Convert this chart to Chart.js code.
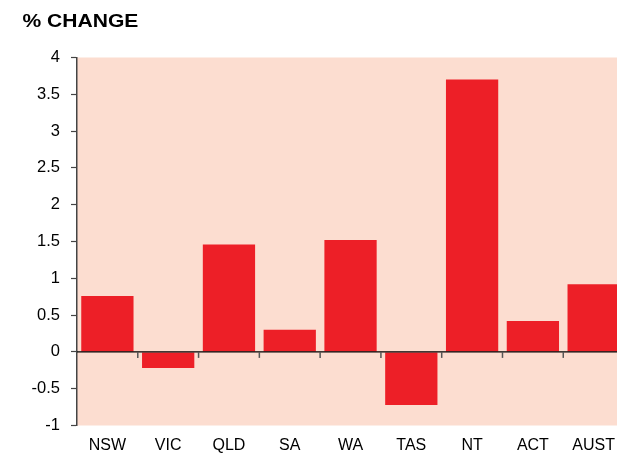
<!DOCTYPE html>
<html>
<head>
<meta charset="utf-8">
<script src="https://cdn.jsdelivr.net/npm/chart.js@4/dist/chart.umd.min.js"></script>
<style>
html,body{margin:0;padding:0;background:#fff;overflow:hidden;}
#wrap{width:617px;height:453px;overflow:hidden;position:relative;}
canvas{display:block;}
</style>
</head>
<body>
<div id="wrap"><canvas id="c" width="625" height="453"></canvas></div>
<script>
const categories = ['NSW','VIC','QLD','SA','WA','TAS','NT','ACT','AUST'];
const changeValues = [0.76, -0.22, 1.46, 0.3, 1.52, -0.72, 3.7, 0.42, 0.92];
const yTickMin = -1;
const yTickMax = 4;
const yTickStep = 0.5;
const chartTitle = '% CHANGE';

const FONT = '"Liberation Sans", Arial, Helvetica, sans-serif';

const plotBg = {
  id: 'plotBg',
  beforeDraw(chart) {
    const {ctx, chartArea: a} = chart;
    ctx.save();
    ctx.fillStyle = '#FCDDD0';
    ctx.fillRect(a.left, a.top, a.right - a.left, a.bottom - a.top);
    ctx.restore();
  }
};

const titleText = {
  id: 'titleText',
  afterDraw(chart) {
    const ctx = chart.ctx;
    ctx.save();
    ctx.font = 'bold 18px ' + FONT;
    ctx.fillStyle = '#000';
    ctx.textAlign = 'left';
    ctx.textBaseline = 'alphabetic';
    ctx.translate(22.5, 27);
    ctx.scale(1.17, 1);
    ctx.fillText(chartTitle, 0, 0);
    ctx.restore();
  }
};

const zeroTicks = {
  id: 'zeroTicks',
  afterDatasetsDraw(chart) {
    const {ctx, scales: {x, y}} = chart;
    const y0 = y.getPixelForValue(0);
    ctx.save();
    ctx.strokeStyle = '#000';
    ctx.lineWidth = 1.2;
    ctx.beginPath();
    ctx.moveTo(chart.chartArea.left, y0);
    ctx.lineTo(chart.chartArea.right, y0);
    ctx.stroke();
    ctx.strokeStyle = '#555';
    ctx.lineWidth = 1.5;
    for (let i = 0; i < categories.length - 1; i++) {
      const px = (x.getPixelForValue(i) + x.getPixelForValue(i + 1)) / 2;
      ctx.beginPath();
      ctx.moveTo(px, y0);
      ctx.lineTo(px, y0 + 6);
      ctx.stroke();
    }
    ctx.restore();
  }
};

new Chart(document.getElementById('c'), {
  type: 'bar',
  data: {
    labels: categories,
    datasets: [{
      data: changeValues,
      backgroundColor: '#ED1F27',
      borderWidth: 0,
      barPercentage: 0.86,
      categoryPercentage: 1.0
    }]
  },
  options: {
    responsive: false,
    animation: false,
    devicePixelRatio: 1,
    layout: { padding: { left: 22, right: 0, top: 57.5, bottom: 0 } },
    plugins: {
      legend: { display: false },
      tooltip: { enabled: false },
      title: { display: false }
    },
    scales: {
      x: {
        offset: true,
        grid: { display: false, drawTicks: false },
        border: { display: false },
        ticks: {
          color: '#000',
          font: { family: FONT, size: 16 },
          padding: 10,
          maxRotation: 0,
          autoSkip: false
        },
        afterFit(scale) { scale.height = 27.5; }
      },
      y: {
        min: yTickMin,
        max: yTickMax,
        grid: {
          drawOnChartArea: false,
          drawTicks: true,
          tickLength: 6,
          tickColor: '#444',
          tickWidth: 1.2
        },
        border: { display: true, color: '#444', width: 1.5 },
        ticks: {
          stepSize: yTickStep,
          color: '#000',
          font: { family: FONT, size: 16.5 },
          padding: 11,
          callback: v => String(v)
        },
        afterFit(scale) { scale.width = 55; }
      }
    }
  },
  plugins: [plotBg, zeroTicks, titleText]
});
</script>
</body>
</html>
